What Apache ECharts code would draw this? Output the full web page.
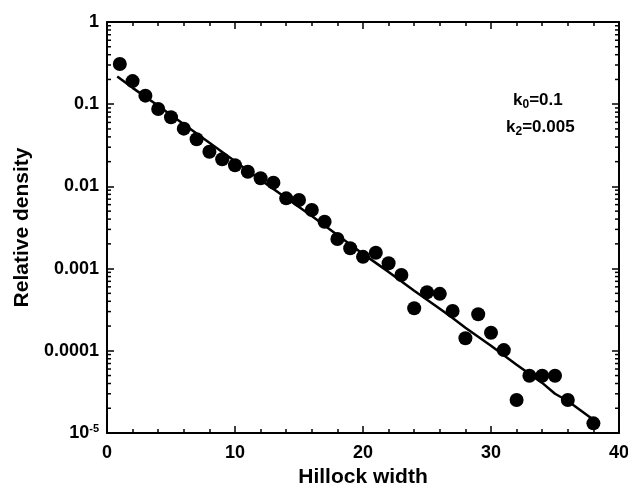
<!DOCTYPE html>
<html>
<head>
<meta charset="utf-8">
<script src="https://cdn.jsdelivr.net/npm/echarts@6/dist/echarts.min.js"></script>
<style>html,body{margin:0;padding:0;background:#fff}#c{width:628px;height:486px}</style>
</head>
<body>
<div id="c"></div>
<script>
// Measured points: hillock width vs relative density
const widths = [1,2,3,4,5,6,7,8,9,10,11,12,13,14,15,16,17,18,19,20,21,22,23,24,25,26,27,28,29,30,31,32,33,34,35,36,38];
const density = [0.308,0.191,0.127,0.0875,0.0693,0.0504,0.0374,0.0264,0.0214,0.0181,0.0151,0.01256,0.0111,0.00716,0.00684,0.00516,0.00372,0.00229,0.00177,0.00139,0.00156,0.00116,0.000836,0.000329,0.000515,0.000493,0.000305,0.000142,0.000278,0.000166,0.000102,0.0000252,0.0000498,0.0000498,0.0000498,0.0000252,0.0000131];
// Fitted curve (k0=0.1, k2=0.005)
const fitX = [0.8,2,4,6,8,10,12,14,16,18,20,22,24,26,27,28,30,32,34,35,36,38];
const fitY = [0.218,0.158,0.0955,0.0569,0.0339,0.0202,0.0120,0.00724,0.00437,0.00257,0.00151,0.000912,0.000537,0.000324,0.000250,0.000191,0.000115,0.0000676,0.0000407,0.0000300,0.0000245,0.0000145];
// Axis tick labels
const yTickLabels = {'-5':'{b|10}{sup|-5}','-4':'0.0001','-3':'0.001','-2':'0.01','-1':'0.1','0':'1'};
const yMinorMultipliers = [2,3,4,5,6,7,8,9];
const yDecades = [1e-5,1e-4,1e-3,1e-2,1e-1];
const xAxisTitle = 'Hillock width';
const yAxisTitle = 'Relative density';
const annot1 = 'k{sub|0}=0.1';
const annot2 = 'k{sub|2}=0.005';

const minorVals = [];
yDecades.forEach(d => yMinorMultipliers.forEach(m => minorVals.push([0, d*m])));

const FONT = 'Liberation Sans, Arial, sans-serif';
const chart = echarts.init(document.getElementById('c'), null, {renderer:'canvas'});
const axisLine = {show:true, onZero:false, lineStyle:{color:'#000', width:2}};
const labelRich = {b:{fontSize:18, fontWeight:'bold', fontFamily:FONT, color:'#000'}, sup:{fontSize:11, fontWeight:'bold', fontFamily:FONT, color:'#000', padding:[0,0,9,0]}};

chart.setOption({
  animation:false,
  backgroundColor:'#fff',
  grid:{left:107, right:9, top:22, bottom:53, containLabel:false, outerBoundsMode:'none'},
  xAxis:[{
    type:'value', min:0, max:40, interval:10, position:'bottom',
    name:xAxisTitle, nameLocation:'middle', nameGap:33,
    nameTextStyle:{fontSize:21, fontWeight:'bold', fontFamily:FONT, color:'#000'},
    axisLine:axisLine,
    axisTick:{show:true, inside:true, length:7, lineStyle:{color:'#000', width:1.5}},
    minorTick:{show:true, splitNumber:5, length:4, lineStyle:{color:'#000', width:1.5}},
    axisLabel:{fontSize:18, fontWeight:'bold', fontFamily:FONT, color:'#000', margin:11},
    splitLine:{show:false}
  },{
    type:'value', min:0, max:40, interval:10, position:'top',
    axisLine:axisLine,
    axisTick:{show:true, inside:true, length:7, lineStyle:{color:'#000', width:1.5}},
    minorTick:{show:true, splitNumber:5, length:4, lineStyle:{color:'#000', width:1.5}},
    axisLabel:{show:false}, splitLine:{show:false}
  }],
  yAxis:[{
    type:'log', logBase:10, min:1e-5, max:1, position:'left',
    name:yAxisTitle, nameLocation:'middle', nameGap:74, nameRotate:90,
    nameTextStyle:{fontSize:21, fontWeight:'bold', fontFamily:FONT, color:'#000'},
    axisLine:axisLine,
    axisTick:{show:true, inside:true, length:7, lineStyle:{color:'#000', width:1.5}},
    axisLabel:{margin:8, fontSize:18, fontWeight:'bold', fontFamily:FONT, color:'#000',
      formatter:function(v){const k=String(Math.round(Math.log10(v))); const s=yTickLabels[k]; return s && s.indexOf('{')===0 ? s : '{b|'+s+'}';},
      rich:labelRich},
    splitLine:{show:false}
  },{
    type:'log', logBase:10, min:1e-5, max:1, position:'right',
    axisLine:axisLine,
    axisTick:{show:true, inside:true, length:7, lineStyle:{color:'#000', width:1.5}},
    axisLabel:{show:false}, splitLine:{show:false}
  }],
  graphic:[
    {type:'text', left:513, top:92, style:{text:annot1, fontSize:17, fontWeight:'bold', fontFamily:FONT, fill:'#000',
      rich:{sub:{fontSize:12, fontWeight:'bold', fontFamily:FONT, fill:'#000', padding:[9,0,0,0]}}}},
    {type:'text', left:506, top:119, style:{text:annot2, fontSize:17, fontWeight:'bold', fontFamily:FONT, fill:'#000',
      rich:{sub:{fontSize:12, fontWeight:'bold', fontFamily:FONT, fill:'#000', padding:[9,0,0,0]}}}}
  ],
  series:[
    {type:'line', data:fitX.map((x,i)=>[x,fitY[i]]), showSymbol:false, symbol:'none',
      lineStyle:{color:'#000', width:2.5}, z:2},
    {type:'scatter', data:widths.map((x,i)=>[x,density[i]]), symbol:'circle', symbolSize:14,
      itemStyle:{color:'#000', opacity:1}, z:3},
    {type:'custom', data:minorVals, clip:false, z:4, silent:true,
      renderItem:function(params, api){
        const v = api.value(1);
        const pL = api.coord([0, v]);
        const pR = api.coord([40, v]);
        return {type:'group', children:[
          {type:'line', shape:{x1:pL[0], y1:pL[1], x2:pL[0]+4, y2:pL[1]}, style:{stroke:'#000', lineWidth:1.5}},
          {type:'line', shape:{x1:pR[0]-4, y1:pR[1], x2:pR[0], y2:pR[1]}, style:{stroke:'#000', lineWidth:1.5}}
        ]};
      }}
  ]
});
</script>
</body>
</html>
